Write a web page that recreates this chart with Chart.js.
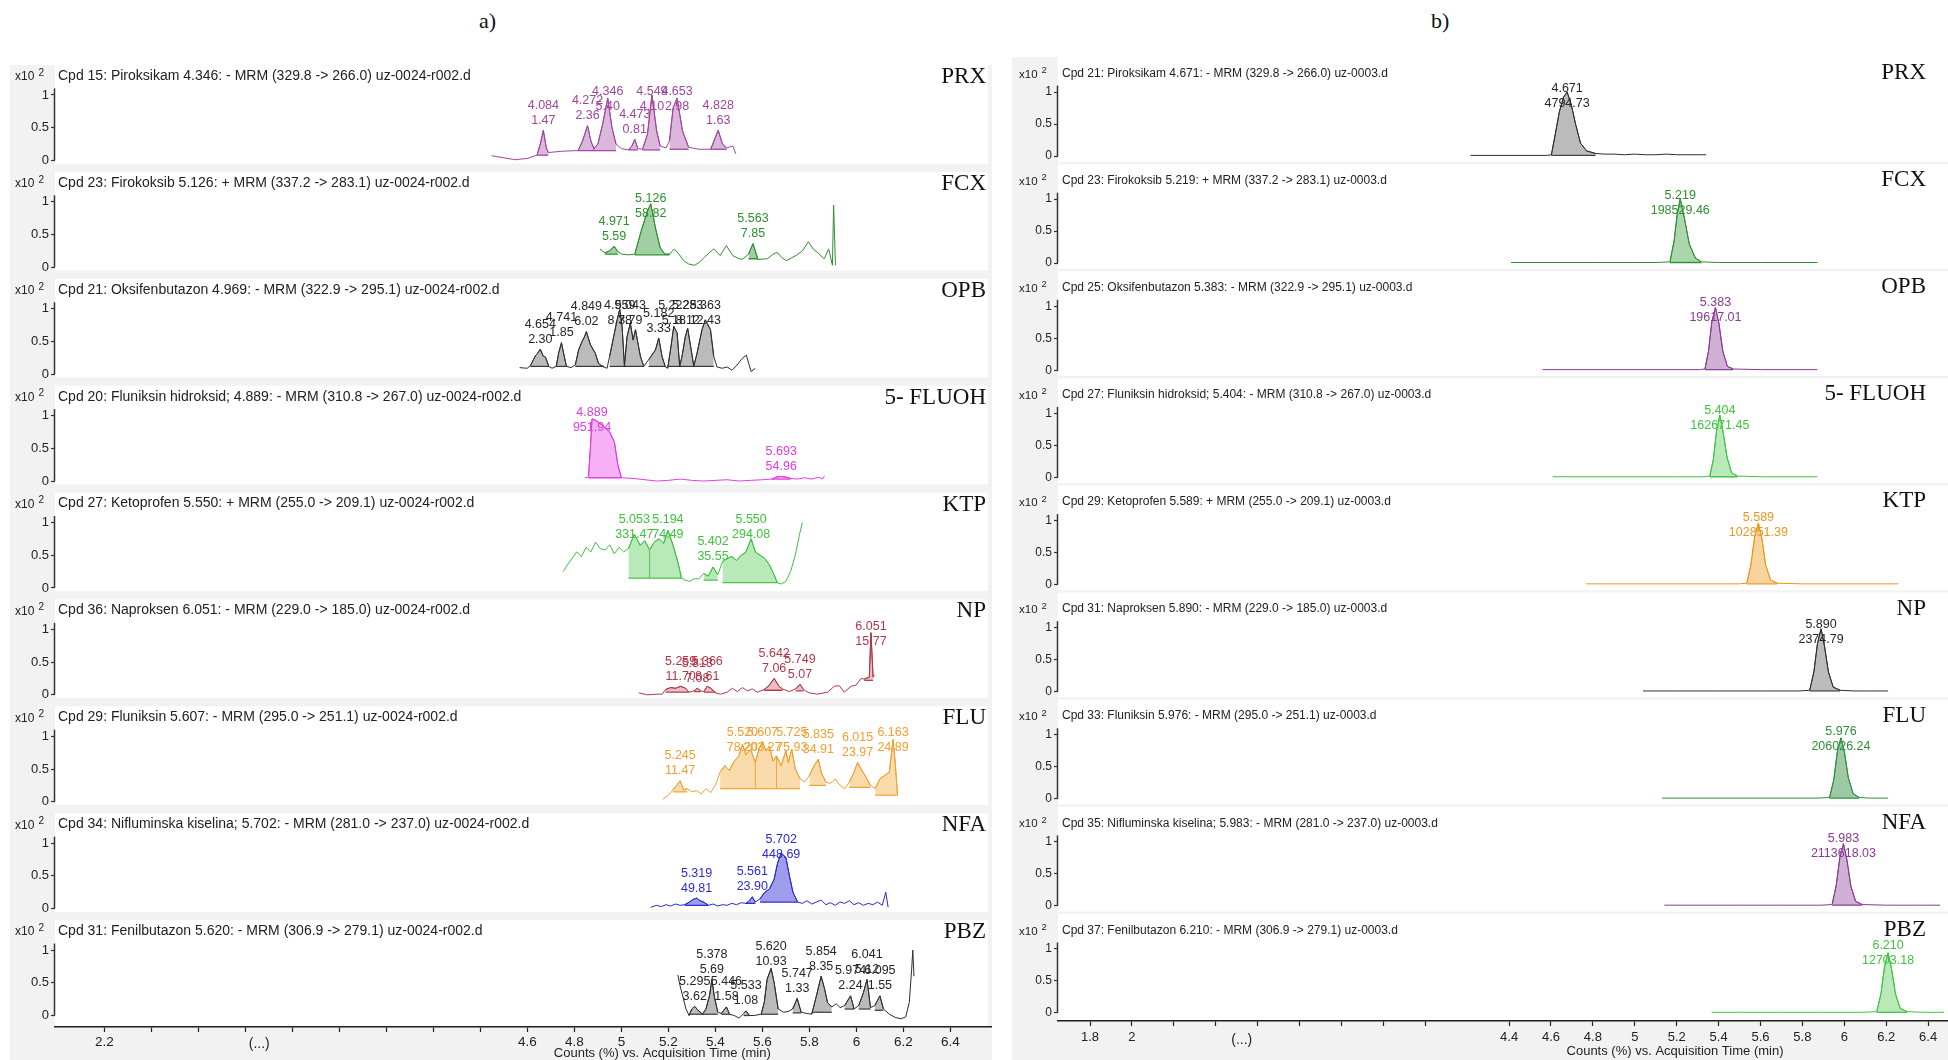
<!DOCTYPE html>
<html>
<head>
<meta charset="utf-8">
<script src="https://cdn.jsdelivr.net/npm/chart.js@4"></script>
<style>
  body { margin: 0; background: #fff; }
  #page { position: relative; width: 1948px; height: 1060px; overflow: hidden; background: #fff; }
  canvas { position: absolute; top: 0; }
  #chartA { left: 10px; }
  #chartB { left: 1012px; }
  .ptitle { position: absolute; top: 8px; font: 22px "Liberation Serif", "Times New Roman", serif; color: #111; }
</style>
</head>
<body>
<div id="page">
  <div class="ptitle" style="left:479px">a)</div>
  <div class="ptitle" style="left:1431px">b)</div>
  <canvas id="chartA" width="982" height="1060"></canvas>
  <canvas id="chartB" width="936" height="1060"></canvas>
</div>
<script>
// row names, same for both panels
const rowNames = ['PRX', 'FCX', 'OPB', '5- FLUOH', 'KTP', 'NP', 'FLU', 'NFA', 'PBZ'];

const headersA = [
  'Cpd 15: Piroksikam 4.346: - MRM (329.8 -> 266.0) uz-0024-r002.d',
  'Cpd 23: Firokoksib 5.126: + MRM (337.2 -> 283.1) uz-0024-r002.d',
  'Cpd 21: Oksifenbutazon 4.969: - MRM (322.9 -> 295.1) uz-0024-r002.d',
  'Cpd 20: Fluniksin hidroksid; 4.889: - MRM (310.8 -> 267.0) uz-0024-r002.d',
  'Cpd 27: Ketoprofen 5.550: + MRM (255.0 -> 209.1) uz-0024-r002.d',
  'Cpd 36: Naproksen 6.051: - MRM (229.0 -> 185.0) uz-0024-r002.d',
  'Cpd 29: Fluniksin 5.607: - MRM (295.0 -> 251.1) uz-0024-r002.d',
  'Cpd 34: Nifluminska kiselina; 5.702: - MRM (281.0 -> 237.0) uz-0024-r002.d',
  'Cpd 31: Fenilbutazon 5.620: - MRM (306.9 -> 279.1) uz-0024-r002.d'
];
const headersB = [
  'Cpd 21: Piroksikam 4.671: - MRM (329.8 -> 266.0) uz-0003.d',
  'Cpd 23: Firokoksib 5.219: + MRM (337.2 -> 283.1) uz-0003.d',
  'Cpd 25: Oksifenbutazon 5.383: - MRM (322.9 -> 295.1) uz-0003.d',
  'Cpd 27: Fluniksin hidroksid; 5.404: - MRM (310.8 -> 267.0) uz-0003.d',
  'Cpd 29: Ketoprofen 5.589: + MRM (255.0 -> 209.1) uz-0003.d',
  'Cpd 31: Naproksen 5.890: - MRM (229.0 -> 185.0) uz-0003.d',
  'Cpd 33: Fluniksin 5.976: - MRM (295.0 -> 251.1) uz-0003.d',
  'Cpd 35: Nifluminska kiselina; 5.983: - MRM (281.0 -> 237.0) uz-0003.d',
  'Cpd 37: Fenilbutazon 6.210: - MRM (306.9 -> 279.1) uz-0003.d'
];

// broken time axis: ticks every 0.2 on the drawn scale, labels as printed
const tickLabelsA = ['2.2', '', '', '', '', '', '', '', '', '4.6', '4.8', '5', '5.2', '5.4', '5.6', '5.8', '6', '6.2', '6.4'];
const tickLabelsB = ['1.8', '2', '', '', '', '', '', '', '', '', '4.4', '4.6', '4.8', '5', '5.2', '5.4', '5.6', '5.8', '6', '6.2', '6.4'];
const tickStartA = 2.8;
const tickStartB = 2.4;
const hiddenTicksB = [4.2];

// ---- panel a) traces: time on drawn axis, counts x10^2; peaks = [start, end, baseline, RT, area]
const prxA_t = [4.448, 4.500, 4.547, 4.600, 4.641, 4.655, 4.668, 4.680, 4.689, 4.750, 4.816, 4.835, 4.856, 4.870, 4.883, 4.900, 4.920, 4.942, 4.960, 4.977, 5.000, 5.031, 5.045, 5.057, 5.070, 5.090, 5.111, 5.130, 5.150, 5.165, 5.190, 5.205, 5.220, 5.237, 5.260, 5.286, 5.330, 5.380, 5.400, 5.412, 5.430, 5.447, 5.474, 5.487];
const prxA_v = [0.07, 0.04, 0.01, 0.03, 0.08, 0.25, 0.46, 0.20, 0.12, 0.14, 0.15, 0.30, 0.53, 0.30, 0.18, 0.25, 0.55, 0.95, 0.50, 0.25, 0.18, 0.16, 0.22, 0.32, 0.18, 0.17, 0.40, 1.00, 0.45, 0.22, 0.19, 0.30, 0.80, 0.95, 0.45, 0.20, 0.17, 0.17, 0.35, 0.46, 0.25, 0.19, 0.22, 0.10];
const prxA_peaks = [[4.641, 4.689, 0.08, '4.084', '1.47'], [4.816, 4.883, 0.15, '4.272', '2.36'], [4.883, 4.977, 0.15, '4.346', '5.40'], [5.031, 5.070, 0.16, '4.473', '0.81'], [5.090, 5.165, 0.16, '4.549', '4.10'], [5.205, 5.286, 0.17, '4.653', '2.98'], [5.380, 5.447, 0.17, '4.828', '1.63']];

const fcxA_t = [4.909, 4.930, 4.950, 4.969, 4.985, 5.003, 5.030, 5.057, 5.084, 5.110, 5.125, 5.145, 5.165, 5.185, 5.205, 5.225, 5.245, 5.265, 5.286, 5.312, 5.333, 5.353, 5.373, 5.393, 5.420, 5.447, 5.474, 5.494, 5.514, 5.541, 5.560, 5.581, 5.621, 5.642, 5.662, 5.682, 5.702, 5.722, 5.743, 5.770, 5.796, 5.816, 5.836, 5.863, 5.882, 5.898, 5.903, 5.911];
const fcxA_v = [0.28, 0.22, 0.25, 0.32, 0.24, 0.20, 0.19, 0.20, 0.55, 0.85, 0.97, 0.60, 0.30, 0.20, 0.20, 0.28, 0.20, 0.10, 0.05, 0.03, 0.08, 0.15, 0.22, 0.28, 0.18, 0.33, 0.18, 0.14, 0.12, 0.20, 0.36, 0.12, 0.13, 0.19, 0.23, 0.15, 0.10, 0.14, 0.18, 0.25, 0.39, 0.28, 0.22, 0.13, 0.28, 0.03, 0.95, 0.03];
const fcxA_peaks = [[4.930, 4.985, 0.20, '4.971', '5.59'], [5.057, 5.205, 0.19, '5.126', '58.82'], [5.541, 5.581, 0.13, '5.563', '7.85']];

const opbA_t = [4.567, 4.599, 4.613, 4.634, 4.644, 4.655, 4.667, 4.677, 4.691, 4.705, 4.723, 4.733, 4.745, 4.754, 4.766, 4.786, 4.804, 4.818, 4.833, 4.843, 4.851, 4.868, 4.889, 4.903, 4.925, 4.939, 4.950, 4.967, 4.982, 4.993, 5.003, 5.013, 5.024, 5.038, 5.050, 5.060, 5.069, 5.081, 5.095, 5.116, 5.145, 5.159, 5.173, 5.187, 5.197, 5.209, 5.223, 5.237, 5.248, 5.258, 5.272, 5.282, 5.297, 5.308, 5.322, 5.343, 5.357, 5.379, 5.393, 5.407, 5.429, 5.450, 5.471, 5.492, 5.514, 5.532, 5.542, 5.552, 5.570];
const opbA_v = [0.10, 0.09, 0.13, 0.28, 0.32, 0.38, 0.28, 0.26, 0.12, 0.09, 0.12, 0.32, 0.48, 0.32, 0.12, 0.10, 0.14, 0.37, 0.50, 0.57, 0.65, 0.45, 0.32, 0.16, 0.11, 0.09, 0.27, 0.57, 0.83, 0.99, 0.73, 0.12, 0.57, 0.78, 0.52, 0.68, 0.50, 0.27, 0.12, 0.22, 0.37, 0.55, 0.27, 0.11, 0.09, 0.37, 0.73, 0.63, 0.12, 0.27, 0.57, 0.70, 0.37, 0.12, 0.32, 0.68, 0.83, 0.68, 0.27, 0.11, 0.09, 0.11, 0.06, 0.14, 0.24, 0.29, 0.16, 0.04, 0.09];
const opbA_peaks = [[4.613, 4.691, 0.12, '4.654', '2.30'], [4.723, 4.766, 0.12, '4.741', '1.85'], [4.804, 4.925, 0.12, '4.849', '6.02'], [4.950, 5.013, 0.12, '4.959', '8.78'], [5.013, 5.095, 0.12, '5.043', '3.79'], [5.116, 5.187, 0.12, '5.182', '3.33'], [5.197, 5.248, 0.12, '5.222', '5.18'], [5.248, 5.308, 0.12, '5.283', '8.12'], [5.308, 5.393, 0.12, '5.363', '12.43']];

const fluohA_t = [4.845, 4.860, 4.868, 4.875, 4.890, 4.920, 4.950, 4.970, 4.985, 5.000, 5.050, 5.100, 5.150, 5.200, 5.250, 5.300, 5.350, 5.400, 5.450, 5.500, 5.550, 5.600, 5.640, 5.660, 5.680, 5.700, 5.720, 5.750, 5.780, 5.810, 5.840, 5.855, 5.865];
const fluohA_v = [0.05, 0.06, 0.50, 0.95, 0.93, 0.85, 0.75, 0.60, 0.25, 0.05, 0.04, 0.02, 0.00, 0.01, 0.03, 0.01, 0.00, 0.01, 0.02, 0.00, 0.01, 0.02, 0.03, 0.06, 0.07, 0.06, 0.04, 0.03, 0.05, 0.03, 0.06, 0.03, 0.08];
const fluohA_peaks = [[4.860, 5.000, 0.05, '4.889', '951.94'], [5.640, 5.720, 0.03, '5.693', '54.96']];

const ktpA_t = [4.753, 4.770, 4.790, 4.810, 4.830, 4.850, 4.870, 4.890, 4.910, 4.930, 4.950, 4.970, 4.990, 5.010, 5.030, 5.055, 5.080, 5.100, 5.120, 5.140, 5.160, 5.180, 5.198, 5.220, 5.240, 5.256, 5.270, 5.290, 5.310, 5.330, 5.350, 5.370, 5.390, 5.410, 5.430, 5.450, 5.470, 5.490, 5.510, 5.530, 5.552, 5.570, 5.590, 5.610, 5.630, 5.650, 5.663, 5.680, 5.700, 5.720, 5.740, 5.760, 5.770];
const ktpA_v = [0.25, 0.35, 0.45, 0.55, 0.48, 0.62, 0.55, 0.70, 0.60, 0.58, 0.66, 0.52, 0.62, 0.55, 0.60, 0.82, 0.65, 0.72, 0.58, 0.70, 0.75, 0.68, 0.88, 0.65, 0.40, 0.15, 0.12, 0.10, 0.14, 0.14, 0.22, 0.18, 0.32, 0.20, 0.40, 0.45, 0.48, 0.42, 0.50, 0.55, 0.75, 0.55, 0.50, 0.45, 0.35, 0.20, 0.08, 0.06, 0.10, 0.25, 0.50, 0.85, 1.00];
const ktpA_peaks = [[5.030, 5.120, 0.15, '5.053', '331.47'], [5.120, 5.256, 0.15, '5.194', '74.49'], [5.350, 5.410, 0.12, '5.402', '35.55'], [5.430, 5.663, 0.08, '5.550', '294.08']];

const npA_t = [5.074, 5.110, 5.152, 5.174, 5.188, 5.209, 5.231, 5.252, 5.273, 5.287, 5.309, 5.323, 5.337, 5.351, 5.365, 5.380, 5.401, 5.422, 5.450, 5.472, 5.493, 5.515, 5.536, 5.557, 5.579, 5.607, 5.628, 5.650, 5.671, 5.685, 5.714, 5.742, 5.760, 5.775, 5.799, 5.834, 5.877, 5.906, 5.927, 5.948, 5.977, 5.999, 6.020, 6.034, 6.055, 6.062, 6.071, 6.077];
const npA_v = [0.03, 0.00, 0.01, 0.01, 0.08, 0.11, 0.10, 0.13, 0.10, 0.04, 0.06, 0.10, 0.06, 0.05, 0.13, 0.10, 0.03, 0.01, 0.04, 0.10, 0.05, 0.11, 0.06, 0.09, 0.04, 0.08, 0.14, 0.25, 0.13, 0.09, 0.05, 0.09, 0.16, 0.08, 0.03, 0.01, 0.04, 0.13, 0.14, 0.04, 0.13, 0.15, 0.25, 0.24, 0.27, 0.95, 0.27, 0.30];
const npA_peaks = [[5.188, 5.287, 0.04, '5.259', '11.70'], [5.309, 5.337, 0.05, '5.313', '7.08'], [5.351, 5.401, 0.04, '5.366', '8.61'], [5.607, 5.685, 0.07, '5.642', '7.06'], [5.742, 5.775, 0.06, '5.749', '5.07'], [6.034, 6.071, 0.22, '6.051', '15.77']];

const fluA_t = [5.177, 5.200, 5.220, 5.235, 5.250, 5.265, 5.280, 5.300, 5.320, 5.340, 5.360, 5.380, 5.400, 5.420, 5.440, 5.460, 5.480, 5.500, 5.515, 5.530, 5.550, 5.570, 5.585, 5.600, 5.615, 5.630, 5.645, 5.660, 5.680, 5.700, 5.710, 5.725, 5.740, 5.760, 5.780, 5.800, 5.820, 5.838, 5.850, 5.870, 5.890, 5.910, 5.930, 5.950, 5.970, 5.990, 6.005, 6.020, 6.040, 6.060, 6.080, 6.100, 6.120, 6.140, 6.156, 6.165, 6.175];
const fluA_v = [0.04, 0.10, 0.18, 0.25, 0.32, 0.18, 0.20, 0.15, 0.17, 0.12, 0.20, 0.14, 0.25, 0.45, 0.55, 0.48, 0.62, 0.70, 0.88, 0.72, 0.80, 0.60, 0.80, 0.92, 0.78, 0.85, 0.62, 0.70, 0.55, 0.78, 0.60, 0.80, 0.50, 0.35, 0.30, 0.40, 0.55, 0.65, 0.45, 0.30, 0.28, 0.35, 0.25, 0.20, 0.30, 0.45, 0.60, 0.50, 0.38, 0.25, 0.20, 0.35, 0.40, 0.45, 0.95, 0.60, 0.10];
const fluA_peaks = [[5.220, 5.280, 0.15, '5.245', '11.47'], [5.420, 5.570, 0.20, '5.520', '78.20'], [5.570, 5.660, 0.20, '5.607', '203.27'], [5.660, 5.760, 0.20, '5.725', '75.93'], [5.800, 5.870, 0.25, '5.835', '34.91'], [5.970, 6.060, 0.22, '6.015', '23.97'], [6.080, 6.175, 0.10, '6.163', '24.89']];

const nfaA_t = [5.124, 5.150, 5.170, 5.190, 5.210, 5.230, 5.250, 5.270, 5.290, 5.305, 5.320, 5.335, 5.350, 5.370, 5.390, 5.410, 5.430, 5.450, 5.470, 5.490, 5.510, 5.530, 5.545, 5.557, 5.570, 5.590, 5.610, 5.630, 5.650, 5.665, 5.680, 5.700, 5.715, 5.730, 5.750, 5.770, 5.790, 5.810, 5.830, 5.850, 5.870, 5.890, 5.910, 5.930, 5.950, 5.970, 5.990, 6.010, 6.030, 6.050, 6.070, 6.090, 6.110, 6.125, 6.135];
const nfaA_v = [0.02, 0.05, 0.03, 0.06, 0.04, 0.07, 0.05, 0.06, 0.10, 0.14, 0.16, 0.12, 0.10, 0.05, 0.07, 0.04, 0.06, 0.05, 0.08, 0.06, 0.09, 0.08, 0.12, 0.18, 0.10, 0.15, 0.25, 0.30, 0.45, 0.70, 0.85, 0.78, 0.50, 0.25, 0.10, 0.08, 0.12, 0.07, 0.10, 0.13, 0.06, 0.09, 0.05, 0.10, 0.08, 0.12, 0.06, 0.09, 0.05, 0.08, 0.06, 0.10, 0.05, 0.25, 0.02];
const nfaA_peaks = [[5.270, 5.370, 0.05, '5.319', '49.81'], [5.530, 5.570, 0.08, '5.561', '23.90'], [5.590, 5.750, 0.10, '5.702', '448.69']];

const pbzA_t = [5.240, 5.250, 5.262, 5.275, 5.288, 5.300, 5.312, 5.326, 5.345, 5.360, 5.375, 5.385, 5.395, 5.410, 5.425, 5.447, 5.460, 5.480, 5.501, 5.520, 5.530, 5.545, 5.565, 5.595, 5.608, 5.620, 5.637, 5.650, 5.667, 5.690, 5.710, 5.729, 5.748, 5.765, 5.790, 5.810, 5.830, 5.850, 5.865, 5.877, 5.895, 5.915, 5.930, 5.950, 5.975, 5.990, 6.010, 6.030, 6.045, 6.060, 6.078, 6.100, 6.115, 6.140, 6.165, 6.190, 6.210, 6.225, 6.235, 6.240, 6.245];
const pbzA_v = [0.62, 0.45, 0.28, 0.10, 0.00, 0.10, 0.14, 0.08, 0.02, 0.10, 0.30, 0.55, 0.30, 0.05, 0.03, 0.13, 0.02, 0.00, -0.04, 0.03, 0.07, 0.00, 0.00, 0.02, 0.20, 0.55, 0.72, 0.50, 0.10, 0.05, 0.06, 0.10, 0.26, 0.05, 0.03, 0.02, 0.30, 0.60, 0.40, 0.20, 0.13, 0.18, 0.12, 0.15, 0.30, 0.10, 0.15, 0.35, 0.55, 0.12, 0.15, 0.30, 0.10, 0.02, -0.03, -0.05, -0.02, 0.20, 0.70, 1.00, 0.60];
const pbzA_peaks = [[5.288, 5.345, 0.02, '5.295', '3.62'], [5.345, 5.410, 0.02, '5.378', '5.69'], [5.425, 5.460, 0.02, '5.446', '1.58'], [5.520, 5.545, 0.00, '5.533', '1.08'], [5.595, 5.667, 0.02, '5.620', '10.93'], [5.729, 5.765, 0.04, '5.747', '1.33'], [5.810, 5.895, 0.05, '5.854', '8.35'], [5.950, 5.990, 0.10, '5.974', '2.24'], [6.010, 6.060, 0.10, '6.041', '5.12'], [6.078, 6.115, 0.08, '6.095', '1.55']];

// ---- panel b) traces
const prxB_t = [4.216, 4.300, 4.400, 4.500, 4.580, 4.602, 4.620, 4.640, 4.660, 4.677, 4.697, 4.718, 4.741, 4.770, 4.813, 4.856, 4.900, 4.950, 5.000, 5.050, 5.100, 5.150, 5.200, 5.250, 5.300, 5.341];
const prxB_v = [0.01, 0.01, 0.01, 0.01, 0.01, 0.02, 0.33, 0.69, 0.92, 1.00, 0.80, 0.49, 0.20, 0.08, 0.04, 0.03, 0.03, 0.02, 0.03, 0.02, 0.02, 0.03, 0.02, 0.02, 0.02, 0.02];
const prxB_peaks = [[4.602, 4.813, 0.01, '4.671', '4794.73']];

const fcxB_t = [4.409, 4.600, 4.800, 5.000, 5.100, 5.168, 5.188, 5.202, 5.217, 5.237, 5.260, 5.289, 5.318, 5.400, 5.600, 5.872];
const fcxB_v = [0.01, 0.01, 0.01, 0.01, 0.01, 0.02, 0.35, 0.75, 1.00, 0.70, 0.30, 0.08, 0.02, 0.01, 0.01, 0.01];
const fcxB_peaks = [[5.168, 5.318, 0.01, '5.219', '198529.46']];

const opbB_t = [4.560, 4.800, 5.000, 5.200, 5.310, 5.335, 5.352, 5.368, 5.385, 5.402, 5.420, 5.442, 5.470, 5.600, 5.750, 5.871];
const opbB_v = [0.01, 0.01, 0.01, 0.01, 0.01, 0.02, 0.30, 0.76, 0.98, 0.72, 0.30, 0.06, 0.02, 0.01, 0.01, 0.01];
const opbB_peaks = [[5.335, 5.470, 0.01, '5.383', '19617.01']];

const fluohB_t = [4.608, 4.800, 5.000, 5.200, 5.330, 5.358, 5.375, 5.390, 5.406, 5.422, 5.440, 5.462, 5.490, 5.600, 5.750, 5.871];
const fluohB_v = [0.01, 0.01, 0.01, 0.01, 0.01, 0.02, 0.28, 0.72, 0.97, 0.70, 0.32, 0.07, 0.02, 0.01, 0.01, 0.01];
const fluohB_peaks = [[5.358, 5.490, 0.01, '5.404', '162671.45']];

const ktpB_t = [4.768, 5.000, 5.200, 5.400, 5.500, 5.535, 5.555, 5.572, 5.590, 5.607, 5.625, 5.648, 5.680, 5.800, 6.000, 6.257];
const ktpB_v = [0.01, 0.01, 0.01, 0.01, 0.01, 0.02, 0.32, 0.74, 0.96, 0.71, 0.30, 0.07, 0.02, 0.01, 0.01, 0.01];
const ktpB_peaks = [[5.535, 5.680, 0.01, '5.589', '102851.39']];

const npB_t = [5.040, 5.200, 5.400, 5.600, 5.780, 5.835, 5.855, 5.872, 5.889, 5.906, 5.924, 5.947, 5.980, 6.050, 6.120, 6.209];
const npB_v = [0.01, 0.01, 0.01, 0.01, 0.01, 0.02, 0.31, 0.75, 0.98, 0.70, 0.31, 0.07, 0.02, 0.01, 0.01, 0.01];
const npB_peaks = [[5.835, 5.980, 0.01, '5.890', '2374.79']];

const fluB_t = [5.130, 5.300, 5.500, 5.700, 5.880, 5.930, 5.950, 5.967, 5.984, 6.001, 6.019, 6.042, 6.070, 6.120, 6.160, 6.209];
const fluB_v = [0.01, 0.01, 0.01, 0.01, 0.01, 0.02, 0.30, 0.74, 0.95, 0.72, 0.33, 0.08, 0.02, 0.01, 0.01, 0.01];
const fluB_peaks = [[5.930, 6.070, 0.01, '5.976', '206026.24']];

const nfaB_t = [5.141, 5.300, 5.500, 5.700, 5.890, 5.942, 5.962, 5.979, 5.996, 6.013, 6.031, 6.054, 6.085, 6.200, 6.350, 6.458];
const nfaB_v = [0.01, 0.01, 0.01, 0.01, 0.01, 0.02, 0.33, 0.76, 0.97, 0.71, 0.31, 0.07, 0.02, 0.01, 0.01, 0.01];
const nfaB_peaks = [[5.942, 6.085, 0.01, '5.983', '2113618.03']];

const pbzB_t = [5.367, 5.500, 5.700, 5.900, 6.090, 6.155, 6.175, 6.192, 6.209, 6.226, 6.244, 6.267, 6.300, 6.380, 6.440, 6.476];
const pbzB_v = [0.01, 0.01, 0.01, 0.01, 0.01, 0.02, 0.30, 0.72, 0.94, 0.68, 0.30, 0.07, 0.02, 0.01, 0.01, 0.01];
const pbzB_peaks = [[6.155, 6.300, 0.01, '6.210', '12703.18']];

// ---- styles
const GRAY_LINE = '#2e2e2e', GRAY_FILL = 'rgba(120,120,120,0.5)';
const linesA = ['#a0449f', '#2e8f2e', GRAY_LINE, '#e03ce0', '#3fc23f', '#b03848', '#f0a030', '#2a2ad0', GRAY_LINE];
const fillsA = ['rgba(175,95,175,0.45)', 'rgba(70,160,70,0.5)', GRAY_FILL, 'rgba(235,80,235,0.45)', 'rgba(100,205,100,0.45)', 'rgba(205,90,110,0.4)', 'rgba(245,175,70,0.45)', 'rgba(60,60,215,0.5)', GRAY_FILL];
const linesB = [GRAY_LINE, '#2e8f2e', '#8a3a94', '#3fc23f', '#e8981c', GRAY_LINE, '#2e8f3a', '#8a3a94', '#3fc23f'];
const fillsB = [GRAY_FILL, 'rgba(70,165,70,0.45)', 'rgba(150,80,160,0.45)', 'rgba(100,205,100,0.45)', 'rgba(240,170,60,0.5)', GRAY_FILL, 'rgba(60,150,75,0.5)', 'rgba(150,80,160,0.45)', 'rgba(100,205,100,0.45)'];

const SANS = '"Liberation Sans", Arial, sans-serif';
const NARROW = '"Liberation Sans Narrow", "Liberation Sans", Arial, sans-serif';
const SERIF = '"Liberation Serif", "Times New Roman", serif';

const tracesA = [
  [prxA_t, prxA_v, prxA_peaks], [fcxA_t, fcxA_v, fcxA_peaks], [opbA_t, opbA_v, opbA_peaks],
  [fluohA_t, fluohA_v, fluohA_peaks], [ktpA_t, ktpA_v, ktpA_peaks], [npA_t, npA_v, npA_peaks],
  [fluA_t, fluA_v, fluA_peaks], [nfaA_t, nfaA_v, nfaA_peaks], [pbzA_t, pbzA_v, pbzA_peaks]
];
const tracesB = [
  [prxB_t, prxB_v, prxB_peaks], [fcxB_t, fcxB_v, fcxB_peaks], [opbB_t, opbB_v, opbB_peaks],
  [fluohB_t, fluohB_v, fluohB_peaks], [ktpB_t, ktpB_v, ktpB_peaks], [npB_t, npB_v, npB_peaks],
  [fluB_t, fluB_v, fluB_peaks], [nfaB_t, nfaB_v, nfaB_peaks], [pbzB_t, pbzB_v, pbzB_peaks]
];

const near = (a, b) => Math.abs(a - b) < 1e-9;

function buildDatasets(traces, lines, fills) {
  const sets = [];
  const labels = [];
  traces.forEach(([t, v, peaks], i) => {
    const yID = 'y' + i;
    const pts = t.map((x, k) => ({x: x, y: v[k]}));
    const inside = (a, b) => pts.filter(p => p.x >= a - 1e-9 && p.x <= b + 1e-9);
    const textColor = lines[i] === GRAY_LINE ? '#262626' : lines[i];
    // peaks that touch each other share one filled area, split by drop lines
    const runs = [];
    peaks.forEach(pk => {
      const last = runs[runs.length - 1];
      if (last && near(last.end, pk[0]) && near(last.base, pk[2])) {
        last.splits.push(pk[0]);
        last.end = pk[1];
      } else {
        runs.push({start: pk[0], end: pk[1], base: pk[2], splits: []});
      }
      const seg = inside(pk[0], pk[1]);
      let apex = seg[0];
      seg.forEach(p => { if (p.y > apex.y) apex = p; });
      labels.push({row: i, x: apex.x, y: apex.y, rt: pk[3], area: pk[4], color: textColor});
    });
    runs.forEach(r => {
      sets.push({data: inside(r.start, r.end), yAxisID: yID, borderColor: lines[i], borderWidth: 1,
        backgroundColor: fills[i], fill: {value: r.base}});
      sets.push({data: [{x: r.start, y: r.base}, {x: r.end, y: r.base}], yAxisID: yID,
        borderColor: lines[i], borderWidth: 1.3, fill: false});
      r.splits.forEach(sx => {
        const top = pts.find(p => near(p.x, sx));
        sets.push({data: [{x: sx, y: r.base}, {x: sx, y: top ? top.y : r.base}], yAxisID: yID,
          borderColor: lines[i], borderWidth: 1, fill: false});
      });
    });
    sets.push({data: pts, yAxisID: yID, borderColor: lines[i], borderWidth: 1, fill: false});
  });
  return {sets, labels};
}

function panelPlugin(cfg, labels) {
  return {
    id: 'panelDecor',
    beforeDraw(chart) {
      const ctx = chart.ctx, area = chart.chartArea;
      ctx.save();
      ctx.fillStyle = '#f2f2f2';
      ctx.fillRect(0, area.top, chart.width, chart.height - area.top);
      ctx.fillStyle = '#ffffff';
      for (let i = 0; i < 9; i++) {
        const s = chart.scales['y' + i];
        const bottom = i === 8 ? s.bottom : s.getPixelForValue(cfg.whiteBottom);
        ctx.fillRect(area.left, s.top, cfg.whiteRight - area.left, bottom - s.top);
      }
      ctx.restore();
    },
    afterDraw(chart) {
      const ctx = chart.ctx, area = chart.chartArea, xs = chart.scales.x;
      ctx.save();
      for (let i = 0; i < 9; i++) {
        const s = chart.scales['y' + i];
        // short y axis line
        ctx.strokeStyle = '#333';
        ctx.lineWidth = 1.5;
        ctx.beginPath();
        ctx.moveTo(area.left - 0.5, s.getPixelForValue(0));
        ctx.lineTo(area.left - 0.5, s.getPixelForValue(1.1));
        ctx.stroke();
        // x10^2 and header
        ctx.fillStyle = '#222';
        ctx.textBaseline = 'middle';
        ctx.textAlign = 'left';
        const hy = s.top + cfg.headerDy;
        ctx.font = cfg.x10Size + 'px ' + SANS;
        ctx.fillText('x10', cfg.x10X, hy + 1);
        ctx.font = (cfg.x10Size - 2) + 'px ' + SANS;
        ctx.fillText('2', cfg.x10X + cfg.x10Size * 1.95, hy - 3);
        ctx.font = cfg.headerSize + 'px ' + SANS;
        ctx.fillText(cfg.headers[i], area.left + cfg.headerDx, hy);
        // compound abbreviation
        ctx.fillStyle = '#111';
        ctx.textAlign = 'right';
        ctx.font = '23px ' + SERIF;
        ctx.fillText(rowNames[i], cfg.nameX, s.top + cfg.nameDy);
      }
      // peak labels
      ctx.textAlign = 'center';
      ctx.textBaseline = 'middle';
      ctx.font = '12.5px ' + SANS;
      labels.forEach(l => {
        const s = chart.scales['y' + l.row];
        const px = xs.getPixelForValue(l.x);
        let y2 = s.getPixelForValue(l.y) - 10;
        let y1 = y2 - 15;
        const lim = s.getPixelForValue(1.05);
        if (y1 < lim) { y1 = lim; y2 = lim + 15; }
        ctx.fillStyle = l.color;
        ctx.fillText(l.rt, px, y1);
        ctx.fillText(l.area, px, y2);
      });
      // broken axis mark and axis title
      ctx.fillStyle = '#222';
      ctx.font = '14px ' + SANS;
      ctx.fillText('(...)', xs.getPixelForValue(cfg.dotsAt), cfg.dotsY);
      ctx.font = '13px ' + NARROW;
      ctx.fillText('Counts (%) vs. Acquisition Time (min)', xs.getPixelForValue(cfg.titleAt), cfg.titleY);
      ctx.restore();
    }
  };
}

function makePanel(canvasId, traces, lines, fills, cfg) {
  const built = buildDatasets(traces, lines, fills);
  const scales = {
    x: {
      type: 'linear', position: 'bottom', min: cfg.xMin, max: cfg.xMax,
      afterBuildTicks: s => {
        s.ticks = cfg.tickLabels.map((_, k) => ({value: +(cfg.tickStart + k * 0.2).toFixed(2)}));
      },
      ticks: {
        autoSkip: false, maxRotation: 0, padding: cfg.tickPad, color: '#222',
        font: {family: NARROW, size: cfg.xTickSize},
        callback: (val, idx) => cfg.tickLabels[idx]
      },
      grid: {
        drawOnChartArea: false, tickLength: 5, tickWidth: 1.2,
        tickColor: c => (c.tick && cfg.hiddenTicks.some(h => Math.abs(h - c.tick.value) < 1e-6)) ? 'rgba(0,0,0,0)' : '#222'
      },
      border: {color: '#1e1e1e', width: 1.5},
      afterFit: s => { s.height = cfg.axisH; }
    }
  };
  // stacked rows are laid out bottom-up, so the last row is declared first
  for (let i = 8; i >= 0; i--) {
    scales['y' + i] = {
      type: 'linear', position: 'left', stack: 'rows', stackWeight: 1,
      min: cfg.yMin, max: cfg.yMax,
      afterBuildTicks: s => { s.ticks = [0, 0.5, 1].map(v => ({value: v})); },
      ticks: {color: '#222', padding: 2, font: {family: SANS, size: cfg.yTickSize}, callback: v => String(v)},
      grid: {drawOnChartArea: false, tickLength: 4, tickWidth: 1.2, color: '#333'},
      border: {display: false},
      afterFit: s => { s.width = cfg.yW; }
    };
  }
  return new Chart(document.getElementById(canvasId), {
    type: 'line',
    data: {datasets: built.sets},
    options: {
      responsive: false,
      animation: false,
      events: [],
      layout: {padding: {top: cfg.top, left: 0, right: 0, bottom: 0}},
      elements: {point: {radius: 0}, line: {tension: 0}},
      plugins: {legend: {display: false}, tooltip: {enabled: false}},
      scales: scales
    },
    plugins: [panelPlugin(cfg, built.labels)]
  });
}

makePanel('chartA', tracesA, linesA, fillsA, {
  headers: headersA, tickLabels: tickLabelsA, tickStart: tickStartA, hiddenTicks: [],
  xMin: 2.59, xMax: 6.577, yMin: -0.176, yMax: 1.458, whiteBottom: -0.05, whiteRight: 978,
  top: 65, axisH: 33, tickPad: 2, yW: 45, xTickSize: 13.5, yTickSize: 13,
  headerSize: 14, headerDy: 11, headerDx: 3, x10X: 5, x10Size: 12, nameX: 976, nameDy: 12,
  dotsAt: 3.459, dotsY: 1044, titleAt: 5.174, titleY: 1053
});

makePanel('chartB', tracesB, linesB, fillsB, {
  headers: headersB, tickLabels: tickLabelsB, tickStart: tickStartB, hiddenTicks: hiddenTicksB,
  xMin: 2.247, xMax: 6.495, yMin: -0.126, yMax: 1.547, whiteBottom: -0.09, whiteRight: 936,
  top: 57, axisH: 39, tickPad: 4, yW: 46, xTickSize: 13, yTickSize: 12,
  headerSize: 12, headerDy: 16.5, headerDx: 4, x10X: 7, x10Size: 11.5, nameX: 914, nameDy: 16,
  dotsAt: 3.124, dotsY: 1040, titleAt: 5.192, titleY: 1051
});
</script>
</body>
</html>
